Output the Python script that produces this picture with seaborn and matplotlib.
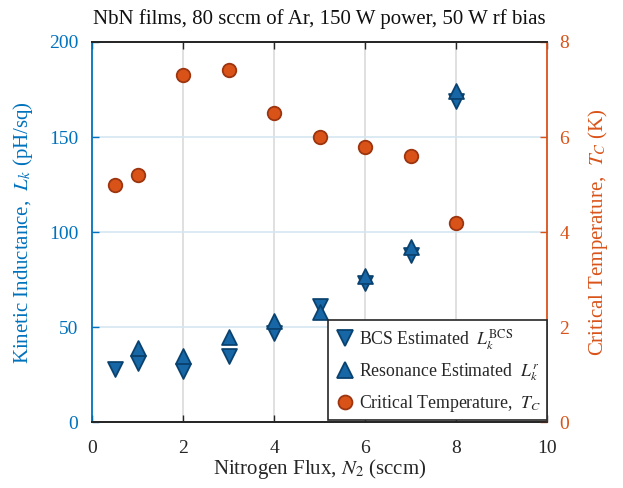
import matplotlib
matplotlib.use("Agg")
import matplotlib.pyplot as plt
import seaborn as sns
import pandas as pd
from matplotlib.lines import Line2D

# Nitrogen flux (sccm) and measured quantities
flux = [0.5, 1, 2, 3, 4, 5, 6, 7, 8]
lk_bcs = [28, 31, 27, 35, 47, 61, 73, 88, 169]
lk_res_flux = [1, 2, 3, 4, 5, 6, 7, 8]
lk_res = [39, 35, 45, 53, 58, 77, 92, 174]
tc = [5.0, 5.2, 7.3, 7.4, 6.5, 6.0, 5.8, 5.6, 4.2]

title = "NbN films, 80 sccm of Ar, 150 W power, 50 W rf bias"
x_ticks = [0, 2, 4, 6, 8, 10]
left_ticks = [0, 50, 100, 150, 200]
right_ticks = [0, 2, 4, 6, 8]

sns.set_style("white")
plt.rcParams["font.family"] = ["Liberation Serif", "DejaVu Serif"]
plt.rcParams["mathtext.fontset"] = "stix"

BLUE = "#0072BD"
ORANGE = "#D95319"
TRI_FACE = "#1767A6"
TRI_EDGE = "#0A426F"
CIR_EDGE = "#9C3510"

fig = plt.figure(figsize=(6.23, 4.88), dpi=100)
ax = fig.add_axes([0.148, 0.135, 0.730, 0.779])
ax2 = ax.twinx()

df_bcs = pd.DataFrame({"flux": flux, "lk": lk_bcs})
df_res = pd.DataFrame({"flux": lk_res_flux, "lk": lk_res})
df_tc = pd.DataFrame({"flux": flux, "tc": tc})

tri_size = 115
sns.scatterplot(data=df_bcs, x="flux", y="lk", ax=ax, marker="v", s=tri_size,
                color=TRI_FACE, edgecolor=TRI_EDGE, linewidth=1.3, zorder=3)
sns.scatterplot(data=df_res, x="flux", y="lk", ax=ax, marker="^", s=tri_size,
                color=TRI_FACE, edgecolor=TRI_EDGE, linewidth=1.3, zorder=3)
sns.scatterplot(data=df_tc, x="flux", y="tc", ax=ax2, marker="o", s=95,
                color=ORANGE, edgecolor=CIR_EDGE, linewidth=1.3, zorder=3)

ax.set_xlim(0, 10)
ax.set_ylim(0, 200)
ax2.set_ylim(0, 8)
ax.set_xticks(x_ticks)
ax.set_yticks(left_ticks)
ax2.set_yticks(right_ticks)

# grid: grey verticals, pale blue horizontals
for xv in x_ticks[1:-1]:
    ax.axvline(xv, color="#DADADA", lw=1.2, zorder=0)
for yv in left_ticks[1:-1]:
    ax.axhline(yv, color="#D6E6F2", lw=1.2, zorder=0)

ax.set_xlabel(r"Nitrogen Flux, $N_2$ (sccm)", fontsize=15, color="#262626", labelpad=0)
ax.set_ylabel(r"Kinetic Inductance,  $L_k$ (pH/sq)", fontsize=15, color=BLUE, labelpad=10)
ax2.set_ylabel(r"Critical Temperature,  $T_C$ (K)", fontsize=15, color=ORANGE, labelpad=12)
ax.set_title(title, fontsize=15, color="#111111", pad=13)

ax.tick_params(axis="x", direction="in", length=5, width=1, colors="#262626",
               labelsize=14, top=True, bottom=True, pad=13)
ax.tick_params(axis="y", direction="in", length=5, width=1, colors=BLUE, labelsize=14, pad=10)
ax2.tick_params(axis="y", direction="in", length=5, width=1, colors=ORANGE, labelsize=14, pad=9)

for a in (ax, ax2):
    for side in ("top", "bottom"):
        a.spines[side].set_color("#262626")
        a.spines[side].set_linewidth(1.3)
ax.spines["left"].set_color(BLUE)
ax.spines["left"].set_linewidth(1.3)
ax2.spines["left"].set_visible(False)
ax2.spines["right"].set_color(ORANGE)
ax2.spines["right"].set_linewidth(1.3)
ax.spines["right"].set_visible(False)

handles = [
    Line2D([], [], ls="none", marker="v", ms=11, mfc=TRI_FACE, mec=TRI_EDGE, mew=1.3),
    Line2D([], [], ls="none", marker="^", ms=11, mfc=TRI_FACE, mec=TRI_EDGE, mew=1.3),
    Line2D([], [], ls="none", marker="o", ms=10, mfc=ORANGE, mec=CIR_EDGE, mew=1.3),
]
labels = [
    r"BCS Estimated  $L_k^{\mathrm{BCS}}$",
    r"Resonance Estimated  $L_k^r$",
    r"Critical Temperature,  $T_C$",
]
leg = ax2.legend(handles, labels, loc="lower right", bbox_to_anchor=(1.0, 0.005),
                 fontsize=12.8, frameon=True, fancybox=False, framealpha=1,
                 edgecolor="#262626", handletextpad=0.2, handlelength=1.2,
                 borderpad=0.35, labelspacing=0.55, borderaxespad=0.0)
leg.get_frame().set_linewidth(1.2)
if ax.get_legend() is not None:
    ax.get_legend().remove()

fig.savefig("out.png", dpi=100)
